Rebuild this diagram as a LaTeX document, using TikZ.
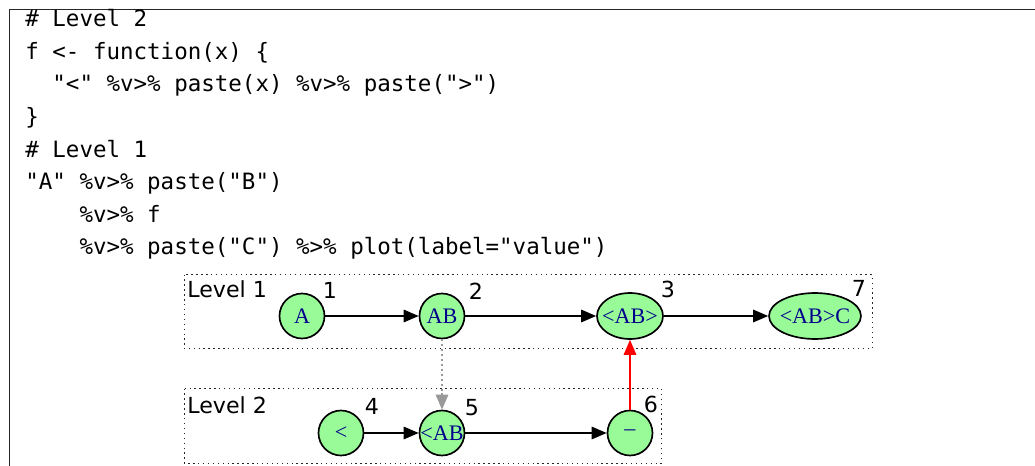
\documentclass[tikz,border=0pt]{standalone}
\usepackage{fontspec}
\newfontfamily\codefont{DejaVu Sans Mono}[Ligatures=ResetAll]
\newfontfamily\lblfont{DejaVu Sans}
\newfontfamily\valfont{Liberation Serif}
\usepackage{tikz}
\usetikzlibrary{arrows.meta, positioning, shapes.geometric}
\definecolor{pgreen}{HTML}{98FB98}
\definecolor{pblue}{HTML}{00008B}
\definecolor{pgray}{HTML}{999999}
\definecolor{pred}{HTML}{FF0000}
% text of a value node, kept from widening the ellipse
\newcommand\vtxt[1]{\makebox[0pt]{#1}}

\begin{document}
\begin{tikzpicture}[
  x=0.02cm, y=-0.02cm,
  codeline/.style={anchor=base west, inner sep=0pt,
    font=\codefont\fontsize{12.8}{15}\selectfont},
  value/.style={ellipse, draw=black, line width=0.95pt, fill=pgreen,
    minimum width=0.9cm, minimum height=0.9cm, inner sep=0pt,
    text=pblue, font=\valfont\fontsize{12.6}{14}\selectfont},
  num/.style={anchor=base, inner sep=0pt,
    font=\lblfont\fontsize{12.6}{15}\selectfont},
  level/.style={anchor=base west, inner sep=0pt,
    font=\lblfont\fontsize{12.6}{15}\selectfont},
  cluster/.style={draw=black!85, line width=0.55pt,
    dash pattern=on 0.8pt off 2pt},
  arr/.style={-{Triangle[length=0.3cm, width=0.25cm]}, line width=0.8pt}
]
  \useasboundingbox (0,0) rectangle (1035,466);
  \draw[line width=0.75pt, black!85] (1035,9.3) -- (9.3,9.3) -- (9.3,466);

  % the code
  \node[codeline] (c1) at (25,26.5)  {\# Level 2};
  \node[codeline] (c2) at (25,59.2)  {f <- function(x) \{};
  \node[codeline] (c3) at (25,91.8)  {\phantom{xx}"<" \%v>\% paste(x) \%v>\% paste(">")};
  \node[codeline] (c4) at (25,124.5) {\}};
  \node[codeline] (c5) at (25,157.1) {\# Level 1};
  \node[codeline] (c6) at (25,189.8) {"A" \%v>\% paste("B")};
  \node[codeline] (c7) at (25,222.4) {\phantom{xxxx}\%v>\% f};
  \node[codeline] (c8) at (25,255)   {\phantom{xxxx}\%v>\% paste("C") \%>\% plot(label="value")};

  % the two levels
  \draw[cluster] (184,274.5) rectangle (872,348.5);
  \draw[cluster] (184,388.5) rectangle (661.5,463);
  \node[level] (lev1) at (187,297) {Level 1};
  \node[level] (lev2) at (187,413) {Level 2};

  \node[value] (a)    at (302,316) {\vtxt{A}};
  \node[value] (ab)   at (442,316) {\vtxt{AB}};
  \node[value, minimum width=1.32cm, minimum height=0.92cm] (abk)
    at (630,316) {\vtxt{<AB>}};
  \node[value, minimum width=1.84cm, minimum height=0.92cm] (abkc)
    at (815,316) {\vtxt{<AB>C}};
  \node[value] (lt)   at (341,433) {\vtxt{<}};
  \node[value] (abl)  at (442,433) {\vtxt{<AB}};
  \node[value] (dash) at (630,433) {\vtxt{\raisebox{-0.12em}{–}}};

  \node[num] (n1) at (330,298) {1};
  \node[num] (n2) at (476,299) {2};
  \node[num] (n3) at (668,297) {3};
  \node[num] (n7) at (859,296) {7};
  \node[num] (n4) at (372,414) {4};
  \node[num] (n5) at (472,415) {5};
  \node[num] (n6) at (651,412) {6};

  \draw[arr] (a) -- (ab);
  \draw[arr] (ab) -- (abk);
  \draw[arr] (abk) -- (abkc);
  \draw[arr] (lt) -- (abl);
  \draw[arr] (abl) -- (dash);
  \draw[arr, pgray, dash pattern=on 1.2pt off 1.6pt] (ab) -- (abl);
  \draw[arr, pred] (dash) -- (abk);
\end{tikzpicture}
\end{document}
